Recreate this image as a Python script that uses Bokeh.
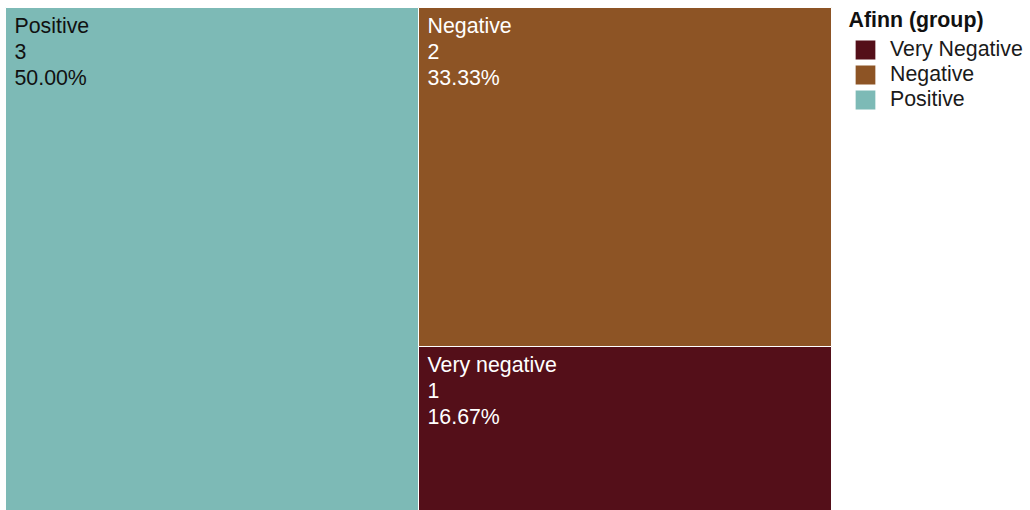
from bokeh.plotting import figure
from bokeh.models import Range1d, ColumnDataSource, Legend, LegendItem, Label
from bokeh.core.properties import value
from bokeh.embed import file_html
from bokeh.resources import INLINE

# ---- data ----
categories = ["Positive", "Negative", "Very negative"]
counts = [3, 2, 1]
fill_colors = ["#7DBAB6", "#8D5425", "#540F19"]
text_colors = ["#111111", "#FFFFFF", "#FFFFFF"]
legend_title = "Afinn (group)"
legend_labels = ["Very Negative", "Negative", "Positive"]
legend_index = [2, 1, 0]

# ---- treemap layout (slice: first item full height, rest split vertically) ----
total = sum(counts)
left, right, top, bottom, labels = [], [], [], [], []
split = counts[0] / total
left.append(0.0); right.append(split); top.append(1.0); bottom.append(0.0)
rest = total - counts[0]
y = 1.0
for c in counts[1:]:
    h = c / rest
    left.append(split); right.append(1.0); top.append(y); bottom.append(y - h)
    y -= h
for cat, c in zip(categories, counts):
    labels.append(f"{cat}\n{c}\n{c / total * 100:.2f}%")

src = ColumnDataSource(dict(left=left, right=right, top=top, bottom=bottom,
                            fill=fill_colors, tcol=text_colors, label=labels))

W, H = 1030, 510
X0, X1 = 5, 831        # treemap horizontal extent (px)
Y0, Y1 = 7, 515.5      # treemap vertical extent (px), bottom runs past the page
sx = X1 - X0
sy = Y1 - Y0

p = figure(width=W, height=H, output_backend="svg", toolbar_location=None,
           x_range=Range1d(-X0 / sx, (W - X0) / sx),
           y_range=Range1d((Y1 - H) / sy, 1 + Y0 / sy),
           x_axis_location=None, y_axis_location=None,
           min_border=0, outline_line_color=None)
p.grid.visible = False

r = p.quad(left="left", right="right", top="top", bottom="bottom", source=src,
           fill_color="fill", line_color="white", line_width=1)

p.text(x="left", y="top", text="label", source=src, text_color="tcol",
       x_offset=9, y_offset=6, text_baseline="top", text_align="left",
       text_font=value("Liberation Sans"), text_font_size="16pt",
       text_line_height=1.09)

legend = Legend(items=[LegendItem(label=lab, renderers=[r], index=i)
                       for lab, i in zip(legend_labels, legend_index)],
                location=(852, 398), glyph_width=26, glyph_height=25,
                label_standoff=12, spacing=0, padding=0, margin=0,
                border_line_color=None, background_fill_alpha=0,
                label_text_font="Liberation Sans", label_text_font_size="16pt",
                label_text_color="#1a1a1a", label_height=25)
p.add_layout(legend)

p.add_layout(Label(x=848, y=503, x_units="screen", y_units="screen",
                   text=legend_title, text_baseline="top",
                   text_font="Liberation Sans", text_font_size="16pt",
                   text_font_style="bold", text_color="#111111"))

open("out.html", "w").write(file_html(p, INLINE))
